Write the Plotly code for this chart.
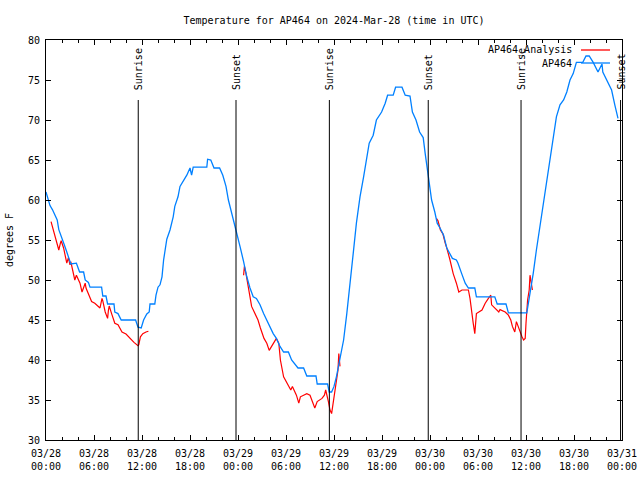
import plotly.graph_objects as go
from datetime import datetime, timedelta

# ---- data (hours since 2024-03-28 00:00 UTC, degrees F) ----
obs_hours = [0.0, 0.3, 0.5, 0.8, 1.1, 1.4, 1.6, 2.0, 2.25, 2.6, 2.8, 3.0, 3.1, 3.8, 4.2, 4.7, 4.9, 5.3, 5.5,
             6.95, 7.1, 7.5, 7.7, 8.5, 8.6, 9.0, 9.4, 11.2, 11.5, 11.9, 12.2, 12.6, 12.9, 13.0, 13.6, 13.75,
             14.0, 14.25, 14.5, 14.7, 14.9, 15.1, 15.5, 15.9, 16.1, 16.5, 16.75, 17.1, 17.6, 18.0, 18.2, 18.4,
             20.1, 20.2, 20.6, 21.0, 21.7, 22.1, 22.5, 22.8, 23.2, 23.5, 23.8, 24.25, 24.7, 25.1, 25.5, 25.9,
             26.3, 26.75, 27.2, 27.6, 28.0, 28.4, 28.8, 29.25, 29.7, 30.3, 30.7, 31.3, 31.5, 32.2, 32.6, 33.75,
             33.9, 35.2, 35.4, 35.7, 36.0, 36.3, 36.75, 37.2, 37.6, 38.0, 38.4, 38.8, 39.25, 39.7, 40.1, 40.4,
             40.9, 41.3, 41.95, 42.4, 42.7, 43.4, 43.7, 44.5, 44.9, 45.5, 45.8, 46.25, 46.7, 47.15, 47.4, 47.7,
             47.85, 48.2, 48.6, 48.9, 49.25, 49.7, 50.1, 50.5, 50.8, 51.3, 51.5, 51.96, 52.4, 52.8, 53.6, 53.8,
             56.1, 56.4, 57.5, 57.8, 60.1, 60.3, 60.5, 60.9, 61.3, 61.75, 62.2, 62.6, 63.0, 63.4, 63.8, 64.25,
             64.7, 65.1, 65.5, 65.9, 66.1, 66.3, 67.1, 67.5, 67.9, 68.4, 69.0, 69.5, 69.6, 70.1, 70.7, 71.1, 71.5]
obs_temps = [61.0, 60.0, 59.3, 58.8, 58.1, 57.5, 56.3, 55.3, 54.5, 53.5, 52.9, 52.5, 52.0, 52.1, 51.0, 51.0, 50.0, 49.7, 49.1,
             49.1, 48.0, 48.0, 47.0, 47.0, 46.0, 45.8, 45.0, 45.0, 44.1, 44.0, 45.0, 45.75, 46.0, 47.0, 47.0, 48.1,
             49.1, 49.4, 50.4, 52.5, 53.75, 55.1, 56.25, 57.9, 59.2, 60.4, 61.7, 62.3, 63.1, 64.0, 63.1, 64.1,
             64.1, 65.1, 65.0, 64.0, 64.0, 63.1, 61.7, 60.0, 58.5, 57.3, 56.0, 54.2, 52.3, 50.4, 49.0, 47.9,
             47.7, 46.9, 45.8, 45.0, 44.0, 43.3, 42.7, 41.7, 41.0, 41.0, 40.0, 39.2, 39.0, 39.0, 38.0, 38.0,
             37.0, 37.0, 36.0, 36.0, 36.7, 37.9, 40.0, 42.5, 45.8, 49.2, 53.3, 57.1, 60.4, 62.9, 65.6, 67.1,
             68.1, 70.0, 71.0, 72.1, 73.1, 73.1, 74.1, 74.1, 73.1, 73.0, 71.0, 70.0, 68.5, 67.8, 65.8, 63.8,
             62.3, 60.0, 58.5, 57.1, 56.5, 55.6, 54.0, 53.3, 52.7, 52.5, 52.1, 50.8, 49.6, 49.0, 49.0, 47.9,
             47.9, 47.0, 47.0, 45.9, 45.9, 47.1, 48.3, 50.8, 53.75, 56.7, 59.6, 62.5, 65.0, 67.5, 70.4, 71.9,
             72.5, 73.5, 75.0, 75.8, 76.7, 77.2, 77.2, 78.0, 78.0, 77.2, 76.0, 77.0, 76.0, 75.0, 73.75, 71.9, 70.2]

ana_hours = [0.63, 0.9, 1.1, 1.3, 1.6, 1.8, 1.9, 2.2, 2.4, 2.6, 2.8, 3.0, 3.1, 3.4, 3.6, 3.8, 4.0, 4.25, 4.5, 4.9,
             5.0, 5.4, 5.7, 6.1, 6.5, 6.75, 7.0, 7.1, 7.4, 7.7, 7.8, 7.9, 8.2, 8.6, 9.0, 9.5, 10.0, 10.5, 11.0,
             11.5, 11.6, 11.8, 12.1, 12.5, 12.8, None,
             24.7, 24.8, 25.0, 25.2, 25.5, 25.7, 26.1, 26.5, 26.8, 27.25, 27.6, 27.9, 28.2, 28.8, 29.1, 29.3,
             29.7, 30.1, 30.6, 30.8, 31.3, 31.6, 31.8, 32.2, 32.6, 33.0, 33.3, 33.6, 33.9, 34.5, 34.8, 34.96,
             35.3, 35.5, 35.7, 35.9, 36.0, 36.25, 36.5, 36.6, 36.75, None,
             48.8, 49.0, 49.3, 49.6, 49.9, 50.1, 50.5, 50.9, 51.3, 51.6, 52.0, 52.8, 53.0, 53.2, 53.4, 53.6,
             53.8, 54.5, 54.9, 55.3, 55.6, 55.7, 56.1, 56.6, 56.75, 57.4, 57.8, 58.1, 58.3, 58.6, 58.8, 59.0,
             59.25, 59.5, 59.7, 59.9, 60.0, 60.2, 60.4, 60.5, 60.6, 60.8]
ana_temps = [57.3, 56.25, 55.4, 54.6, 53.75, 54.6, 54.9, 54.0, 53.1, 52.1, 52.8, 51.9, 52.3, 50.8, 50.0, 50.6, 50.2, 49.6, 48.5, 49.6,
             49.0, 47.9, 47.3, 47.1, 46.7, 46.5, 47.7, 47.4, 46.0, 45.2, 46.2, 46.75, 45.8, 44.6, 44.4, 43.5, 43.25, 42.7, 42.2,
             41.8, 41.9, 42.9, 43.3, 43.5, 43.6, None,
             50.6, 51.7, 50.8, 49.4, 47.9, 46.7, 45.8, 45.0, 44.0, 42.7, 42.1, 41.2, 41.7, 42.7, 42.1, 40.0,
             37.9, 37.1, 36.25, 36.7, 35.6, 34.6, 35.4, 35.6, 35.8, 35.6, 34.8, 34.0, 34.8, 35.2, 35.6, 36.25,
             34.8, 33.75, 33.3, 34.6, 35.8, 37.1, 38.75, 40.8, 39.2, None,
             57.7, 57.4, 56.25, 55.8, 54.6, 54.0, 52.5, 50.8, 49.6, 48.5, 48.75, 48.75, 47.7, 45.8, 44.6, 43.3,
             45.8, 46.25, 47.1, 47.7, 48.1, 46.9, 46.5, 46.0, 46.3, 46.0, 45.6, 45.0, 44.2, 43.5, 44.8, 44.2,
             43.5, 42.9, 42.5, 42.7, 44.6, 47.5, 48.75, 50.6, 50.0, 48.75]

sun_labels = ["Sunrise", "Sunset", "Sunrise", "Sunset", "Sunrise", "Sunset"]
sun_hours = [11.53, 23.75, 35.42, 47.78, 59.38, 71.82]

y_ticks = [30, 35, 40, 45, 50, 55, 60, 65, 70, 75, 80]

series_names = ["AP464_Analysis", "AP464"]
series_colors = ["#ff0000", "#0080ff"]

base = datetime(2024, 3, 28, 0, 0)


def to_time(h):
    return None if h is None else base + timedelta(hours=h)


FONT = "DejaVu Sans Mono"

fig = go.Figure()
fig.add_trace(go.Scatter(x=[to_time(h) for h in ana_hours], y=ana_temps, mode="lines",
                         name=series_names[0], line=dict(color=series_colors[0], width=1.2),
                         connectgaps=False, showlegend=False))
fig.add_trace(go.Scatter(x=[to_time(h) for h in obs_hours], y=obs_temps, mode="lines",
                         name=series_names[1], line=dict(color=series_colors[1], width=1.3),
                         showlegend=False))

for lab, h in zip(sun_labels, sun_hours):
    t = to_time(h)
    fig.add_shape(type="line", xref="x", yref="y", x0=t, x1=t, y0=30, y1=72.5,
                  line=dict(color="black", width=1))
    fig.add_annotation(x=t, y=73.5, xref="x", yref="y", text=lab, textangle=-90,
                       showarrow=False, xanchor="center", yanchor="bottom",
                       font=dict(family=FONT, size=10, color="black"))

# manual legend (text left, sample line right)
leg_y = [0.975, 0.9425]
for name, col, yy in zip(series_names, series_colors, leg_y):
    fig.add_annotation(x=0.9167, y=yy, xref="paper", yref="paper", text=name, showarrow=False,
                       xanchor="right", yanchor="middle", font=dict(family=FONT, size=10, color="black"))
    fig.add_shape(type="line", xref="paper", yref="paper", x0=0.9288, x1=0.9792, y0=yy, y1=yy,
                  line=dict(color=col, width=1.3))

fig.update_layout(
    width=640, height=480,
    margin=dict(l=46, r=18, t=40, b=40, autoexpand=False),
    paper_bgcolor="white", plot_bgcolor="white",
    font=dict(family=FONT, size=10, color="black"),
    title=dict(text="Temperature for AP464 on 2024-Mar-28 (time in UTC)", x=0.5, xref="paper",
               y=1 - 20 / 480, yref="container", xanchor="center", yanchor="middle",
               font=dict(family=FONT, size=10, color="black")),
)
fig.update_xaxes(
    type="date", range=[base, base + timedelta(hours=72)], automargin=False,
    tick0=base, dtick=6 * 3600 * 1000, tickformat="%m/%d<br>%H:%M",
    ticks="inside", ticklen=5, tickcolor="black", tickwidth=1, ticklabelstandoff=4,
    ticklabeloverflow="allow",
    minor=dict(dtick=2 * 3600 * 1000, ticks="inside", ticklen=3, tickcolor="black", showgrid=False),
    showline=True, linecolor="black", linewidth=1, mirror="ticks",
    showgrid=False, zeroline=False,
    tickfont=dict(family=FONT, size=10, color="black"),
)
fig.update_yaxes(
    range=[30, 80], tickvals=y_ticks, ticktext=[str(v) for v in y_ticks], automargin=False,
    ticks="inside", ticklen=5, tickcolor="black", tickwidth=1, ticklabelstandoff=3,
    showline=True, linecolor="black", linewidth=1, mirror="ticks",
    showgrid=False, zeroline=False,
    title=dict(text="degrees F", font=dict(family=FONT, size=10, color="black"), standoff=12),
    tickfont=dict(family=FONT, size=10, color="black"),
)

fig.write_html("out.html", config={"displayModeBar": False},
               post_script="document.body.style.margin='0';document.body.style.overflow='hidden';")
